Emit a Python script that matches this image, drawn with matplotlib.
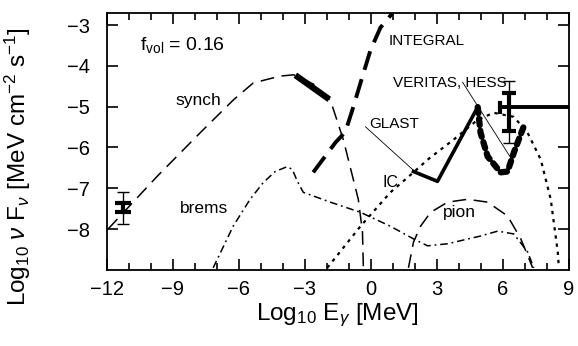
import matplotlib
matplotlib.use("Agg")
import matplotlib.pyplot as plt
from matplotlib.ticker import MultipleLocator

plt.rcParams["font.family"] = ["Liberation Sans", "DejaVu Sans"]
plt.rcParams["mathtext.fontset"] = "custom"
plt.rcParams["mathtext.rm"] = "Liberation Sans"
plt.rcParams["mathtext.it"] = "Liberation Sans:italic"

# model curves (log10 E [MeV], log10 nuFnu)
synch_x = [-11.95, -9.72, -7.76, -6.26, -5.35, -4.12, -3.5, -2.6, -1.84, -1.25, -0.57, -0.38, -0.34]
synch_y = [-8.0, -6.71, -5.64, -4.84, -4.42, -4.25, -4.22, -4.45, -4.84, -5.81, -7.27, -8.07, -8.95]

xray_x = [-3.43, -1.89]
xray_y = [-4.23, -4.82]

integral_x = [-2.62, -1.61, -1.16, -0.84, -0.47, -0.02, 0.44, 0.89, 1.1]
integral_y = [-6.61, -5.88, -5.62, -5.08, -4.42, -3.62, -3.06, -2.77, -2.6]

brems_x = [-7.17, -6.26, -5.49, -4.89, -4.35, -3.80, -3.57, -3.34, -3.07, -1.84, -0.47, 0.89,
           1.94, 2.58, 3.49, 4.99, 5.77, 6.50, 7.13, 7.41]
brems_y = [-8.95, -7.93, -7.27, -6.86, -6.59, -6.47, -6.54, -6.83, -7.10, -7.34, -7.59, -7.93,
           -8.24, -8.41, -8.36, -8.17, -8.05, -8.12, -8.56, -8.95]

pion_x = [1.71, 1.94, 2.26, 2.72, 3.49, 4.40, 5.31, 6.22, 6.82, 7.36]
pion_y = [-8.95, -8.32, -7.93, -7.59, -7.34, -7.27, -7.34, -7.68, -8.24, -8.95]

ic_x = [-1.98, -0.47, 0.89, 1.94, 2.58, 3.76, 4.86, 5.59, 6.50, 7.13, 7.73, 8.18, 8.50, 8.55]
ic_y = [-8.95, -7.93, -7.10, -6.61, -6.30, -5.81, -5.32, -5.15, -5.25, -5.64, -6.30, -7.27, -8.56, -8.95]

glast_x = [1.94, 3.03, 4.86]
glast_y = [-6.59, -6.83, -5.01]

veritas_x = [4.86, 4.99, 5.31, 5.90, 6.22, 6.50, 6.95]
veritas_y = [-5.01, -5.64, -6.22, -6.61, -6.59, -6.13, -5.49]

# data points with error bars
radio_x, radio_y = -11.28, -7.47
radio_err_lo, radio_err_hi = 0.41, 0.38
tev_x, tev_y = 6.28, -5.02
tev_err_lo, tev_err_hi = 0.87, 0.65
tev_line_x = [5.86, 9.0]

fig = plt.figure(figsize=(5.78, 3.46), dpi=100)
ax = fig.add_axes([0.185, 0.22, 0.799, 0.743])

ax.plot(synch_x, synch_y, color="black", lw=1.1, dashes=(9, 5))
ax.plot(xray_x, xray_y, color="black", lw=4.5, solid_capstyle="butt")
ax.plot(integral_x, integral_y, color="black", lw=2.8, dashes=(5, 2.5))
ax.plot(brems_x, brems_y, color="black", lw=1.1, dashes=(5, 2.5, 1.2, 2.5))
ax.plot(pion_x, pion_y, color="black", lw=1.1, dashes=(9, 5))
ax.plot(ic_x, ic_y, color="black", lw=1.6, dashes=(1.5, 2.2))
ax.plot(glast_x, glast_y, color="black", lw=2.6)
ax.plot(veritas_x, veritas_y, color="black", lw=4.5, dashes=(1.0, 0.9), dash_capstyle="round")

# radio point
ax.errorbar([radio_x], [radio_y], yerr=[[radio_err_lo], [radio_err_hi]], fmt="none",
            ecolor="black", elinewidth=1.0, capsize=4, capthick=1.0)
ax.errorbar([radio_x], [radio_y], yerr=[[0.12], [0.12]], fmt="none",
            ecolor="black", elinewidth=3, capsize=6, capthick=3)

# TeV point and horizontal line
ax.errorbar([tev_x], [tev_y], yerr=[[tev_err_lo], [tev_err_hi]], fmt="none",
            ecolor="black", elinewidth=1.0, capsize=4, capthick=1.0)
ax.errorbar([tev_x], [tev_y], yerr=[[0.57], [0.35]], fmt="none",
            ecolor="black", elinewidth=3, capsize=5, capthick=3)
ax.plot(tev_line_x, [tev_y, tev_y], color="black", lw=2.8)
ax.plot([tev_line_x[0], tev_line_x[0]], [tev_y - 0.12, tev_y + 0.12], color="black", lw=3)

# leader lines
ax.plot([-0.25, 1.94], [-5.49, -6.56], color="black", lw=0.6)
ax.plot([4.17, 6.36], [-4.40, -6.25], color="black", lw=0.6)

ax.text(-10.5, -3.5, r"f$_{\rm vol}$ = 0.16", fontsize=14, va="center")
ax.text(-8.9, -4.85, "synch", fontsize=12.5, va="center")
ax.text(-8.7, -7.5, "brems", fontsize=12.5, va="center")
ax.text(0.8, -3.38, "INTEGRAL", fontsize=11, va="center")
ax.text(1.0, -4.42, "VERITAS, HESS", fontsize=11, va="center")
ax.text(-0.05, -5.42, "GLAST", fontsize=11, va="center")
ax.text(0.55, -6.87, "IC", fontsize=11.5, va="center")
ax.text(3.3, -7.6, "pion", fontsize=12.5, va="center")

ax.set_xlim(-12, 9)
ax.set_ylim(-9, -2.7)
ax.xaxis.set_major_locator(MultipleLocator(3))
ax.xaxis.set_minor_locator(MultipleLocator(1))
ax.set_yticks([-8, -7, -6, -5, -4, -3])
ax.tick_params(which="both", direction="in", top=True, right=True, labelsize=14.5, width=1.2)
ax.tick_params(which="major", length=8)
ax.tick_params(axis="x", which="major", pad=7)
ax.tick_params(axis="y", which="major", pad=12)
ax.tick_params(which="minor", length=5, width=1.2)
for s in ax.spines.values():
    s.set_linewidth(1.3)

ax.set_xlabel(r"Log$_{10}$ E$_\gamma$ [MeV]", fontsize=17.5)
ax.xaxis.set_label_coords(0.5, -0.125)
ax.set_ylabel(r"Log$_{10}$ $\nu$ F$_\nu$ [MeV cm$^{-2}$ s$^{-1}$]", fontsize=17.5)
ax.yaxis.set_label_coords(-0.16, 0.4)

fig.savefig("out.png", dpi=100)
